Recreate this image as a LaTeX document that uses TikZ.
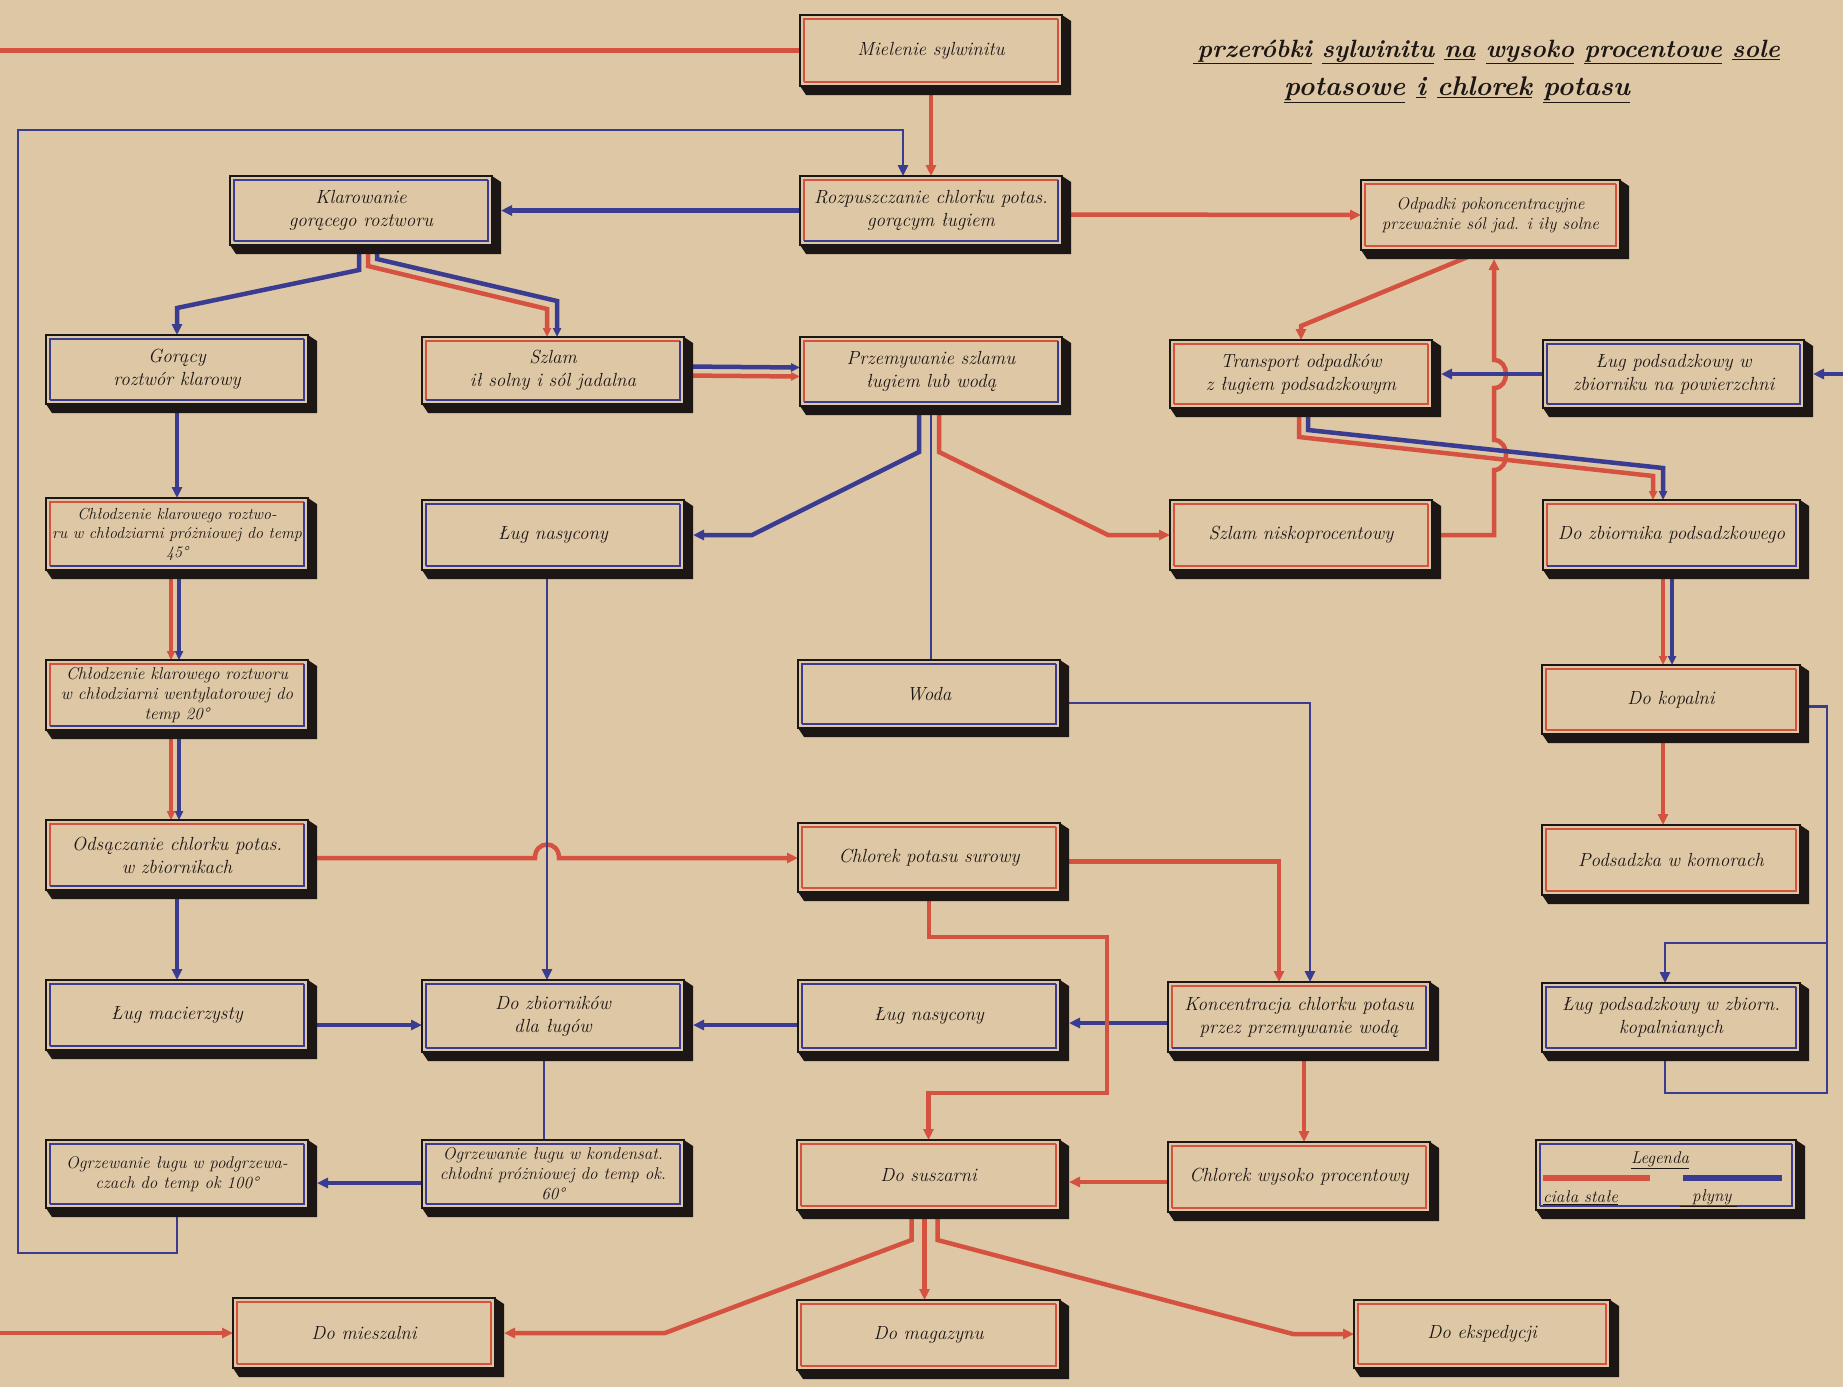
\documentclass[tikz,border=0pt]{standalone}
\usepackage{fontspec}
\usetikzlibrary{arrows.meta}
\definecolor{paper}{RGB}{222,199,165}
\definecolor{redc}{RGB}{213,82,64}
\definecolor{bluec}{RGB}{58,60,145}
\definecolor{inkc}{RGB}{28,22,20}
\pgfdeclarelayer{paperl}
\pgfdeclarelayer{conn}
\pgfsetlayers{paperl,conn,main}
\newcommand\bxf{\fontsize{19}{23}\selectfont\itshape}
\newcommand\bxm{\fontsize{17}{20}\selectfont\itshape}
\newcommand\bxs{\fontsize{16}{19}\selectfont\itshape}
\tikzset{
 pbox/.style={draw=inkc, line width=1.6pt, fill=paper, inner sep=2pt, outer sep=0pt, align=center, font=\bxf, text=inkc},
 innerl/.style={line width=2pt},
 rl/.style={redc, line width=4.5pt},
 bl/.style={bluec, line width=4.5pt},
 blt/.style={bluec, line width=2.6pt},
 arr/.style={-{Triangle[length=11pt,width=10pt]}},
 arrs/.style={-{Triangle[length=9pt,width=8pt]}},
 ttl/.style={font=\fontsize{25}{30}\selectfont\bfseries\itshape, text=inkc, inner sep=0pt},
 lgt/.style={font=\bxm, text=inkc, inner sep=0pt},
}
\newcommand\procnode[9][]{%
  \fill[inkc] (#3,#6) -- (#3+6,#6+9) -- (#5+9,#6+9) -- (#5+9,#4+6) -- (#5,#4) -- cycle;
  \node[pbox, minimum width={#5-#3}, minimum height={#6-#4}, anchor=north west, #1] (#2) at (#3,#4) {#9};
  \draw[#7, innerl] (#3+4,#6-4) -- (#3+4,#4+4) -- (#5-4,#4+4);
  \draw[#8, innerl] (#3+4,#6-4) -- (#5-4,#6-4) -- (#5-4,#4+4);
}
\begin{document}
\begin{tikzpicture}[x=1pt,y=-1pt]
\useasboundingbox (0,0) rectangle (1843,1387);
\begin{pgfonlayer}{paperl}
\fill[paper] (0,0) rectangle (1843,1387);
\end{pgfonlayer}

% title
\node[ttl, anchor=west] (title1) at (1193,52) {\underline{\,przeróbki} \underline{sylwinitu} \underline{na} \underline{wysoko} \underline{procentowe} \underline{sole}};
\node[ttl, font=\fontsize{27}{32}\selectfont\bfseries\itshape] (title2) at (1457,90) {\underline{potasowe} \underline{i} \underline{chlorek} \underline{potasu}};

% boxes
\procnode{miel}{800}{15}{1062}{86}{redc}{redc}{Mielenie sylwinitu}
\procnode{rozp}{800}{176}{1062}{245}{redc}{bluec}{Rozpuszczanie chlorku potas.\\ gorącym ługiem}
\procnode{klar}{230}{176}{492}{245}{bluec}{bluec}{Klarowanie\\ gorącego roztworu}
\procnode[font=\bxm]{odp}{1361}{180}{1620}{250}{redc}{redc}{Odpadki pokoncentracyjne\\ przeważnie sól jad. i iły solne}
\procnode{gor}{46}{335}{308}{404}{bluec}{bluec}{Gorący\\ roztwór klarowy}
\procnode{szlam}{422}{337}{684}{404}{redc}{bluec}{Szlam\\ ił solny i sól jadalna}
\procnode{przem}{800}{337}{1062}{406}{redc}{bluec}{Przemywanie szlamu\\ ługiem lub wodą}
\procnode{trans}{1170}{340}{1432}{408}{redc}{redc}{Transport odpadków\\ z ługiem podsadzkowym}
\procnode{lugpow}{1543}{340}{1804}{408}{bluec}{bluec}{Ług podsadzkowy w\\ zbiorniku na powierzchni}
\procnode[font=\bxs]{chl45}{46}{498}{308}{570}{redc}{bluec}{Chłodzenie klarowego roztwo-\\ru w chłodziarni próżniowej do temp\\ 45°}
\procnode{lugn}{422}{500}{684}{570}{bluec}{bluec}{Ług nasycony}
\procnode{szlamn}{1170}{500}{1432}{570}{redc}{redc}{Szlam niskoprocentowy}
\procnode{dozb}{1543}{500}{1800}{570}{redc}{bluec}{Do zbiornika podsadzkowego}
\procnode[font=\bxm]{chl20}{46}{660}{308}{730}{redc}{bluec}{Chłodzenie klarowego roztworu\\ w chłodziarni wentylatorowej do\\ temp 20°}
\procnode{woda}{798}{660}{1060}{728}{bluec}{bluec}{Woda}
\procnode{dokop}{1542}{665}{1800}{734}{redc}{redc}{Do kopalni}
\procnode{ods}{46}{820}{308}{890}{redc}{bluec}{Odsączanie chlorku potas.\\ w zbiornikach}
\procnode{chlsur}{798}{823}{1060}{892}{redc}{redc}{Chlorek potasu surowy}
\procnode{podsad}{1542}{825}{1800}{895}{redc}{redc}{Podsadzka w komorach}
\procnode{lugmac}{46}{980}{308}{1050}{bluec}{bluec}{Ług macierzysty}
\procnode{dozbl}{422}{980}{684}{1052}{bluec}{bluec}{Do zbiorników\\ dla ługów}
\procnode{lugn2}{798}{980}{1060}{1052}{bluec}{bluec}{Ług nasycony}
\procnode{konc}{1168}{982}{1430}{1052}{redc}{bluec}{Koncentracja chlorku potasu\\ przez przemywanie wodą}
\procnode{lugzb}{1542}{983}{1800}{1052}{bluec}{bluec}{Ług podsadzkowy w zbiorn.\\ kopalnianych}
\procnode[font=\bxm]{ogrzA}{46}{1140}{308}{1208}{bluec}{bluec}{Ogrzewanie ługu w podgrzewa-\\czach do temp ok 100°}
\procnode[font=\bxm]{ogrzB}{422}{1140}{684}{1208}{bluec}{bluec}{Ogrzewanie ługu w kondensat.\\ chłodni próżniowej do temp ok.\\ 60°}
\procnode{susz}{797}{1140}{1060}{1210}{redc}{redc}{Do suszarni}
\procnode{chlwys}{1168}{1142}{1430}{1212}{redc}{redc}{Chlorek wysoko procentowy}
\procnode{leg}{1536}{1140}{1796}{1210}{bluec}{bluec}{}
\procnode{miesz}{233}{1298}{495}{1368}{redc}{redc}{Do mieszalni}
\procnode{magaz}{797}{1300}{1060}{1370}{redc}{redc}{Do magazynu}
\procnode{eksp}{1354}{1300}{1610}{1368}{redc}{redc}{Do ekspedycji}

% legend content
\node[lgt] (legT) at (1660,1160) {\underline{Legenda}};
\draw[redc, line width=6pt] (1543,1178) -- (1650,1178);
\draw[bluec, line width=6pt] (1683,1178) -- (1782,1178);
\node[lgt, anchor=west] (legS) at (1543,1198) {\underline{ciała stałe}};
\node[lgt, anchor=west] (legP) at (1680,1198) {\underline{\ \ płyny\ }};

\coordinate (inTop) at (0,50.5);
\coordinate (inR) at (1843,374);
\coordinate (inBL) at (0,1333);
\coordinate (jA) at (1827,943);

\begin{pgfonlayer}{conn}
% top
\draw[rl] (inTop) -- (miel.west);
\draw[rl,arr] (miel.south) -- (rozp.north);
\draw[blt,arr] (ogrzA.south) -- (177,1253) -- (18,1253) -- (18,130) -- (903,130) -- ([xshift=-28pt]rozp.north);
\draw[bl,arr] (rozp.west) -- ([xshift=9pt]klar.east);
\draw[rl,arr] ([yshift=-4pt]rozp.east) -- (odp.west);
% Klarowanie split
\draw[bl,arr] ([xshift=-2pt]klar.south) -- (359,270) -- (177,308) -- (gor.north);
\draw[rl,arrs] ([xshift=7pt]klar.south) -- (368,266) -- (547,309) -- ([xshift=-6pt]szlam.north);
\draw[bl,arrs] ([xshift=16pt]klar.south) -- (377,259) -- (557,301) -- ([xshift=4pt]szlam.north);
% Szlam -> Przemywanie
\draw[bl,arrs] ([yshift=4pt]szlam.east) -- ([yshift=4pt]przem.west);
\draw[rl,arrs] ([yshift=-5pt]szlam.east) -- ([yshift=-5pt]przem.west);
% Przemywanie outputs
\draw[bl,arr] ([xshift=-12pt]przem.south) -- (919,452) -- (752,535) -- ([xshift=9pt]lugn.east);
\draw[blt] (przem.south) -- ([xshift=2pt]woda.north);
\draw[rl,arr] ([xshift=8pt]przem.south) -- (939,452) -- (1108,535) -- (szlamn.west);
% right upper
\draw[rl,arr] ([xshift=-6pt]odp.south) -- (1301,326) -- (trans.north);
\draw[rl,arr] (szlamn.east) -- (1494,535) -- (1494,470) .. controls (1510,470) and (1510,440) .. (1494,440) -- (1494,388) .. controls (1510,388) and (1510,360) .. (1494,360) -- ([xshift=3.5pt,yshift=-9pt]odp.south);
\draw[bl,arr] (lugpow.west) -- ([xshift=9pt]trans.east);
\draw[bl,arr] (inR) -- ([xshift=9pt]lugpow.east);
\draw[rl,arrs] ([xshift=-2pt]trans.south) -- (1299,437) -- (1653,476) -- ([xshift=-18.5pt]dozb.north);
\draw[bl,arrs] ([xshift=7pt]trans.south) -- (1308,430) -- (1663,468) -- ([xshift=-8.5pt]dozb.north);
\draw[rl,arrs] ([xshift=-8.5pt]dozb.south) -- ([xshift=-8pt]dokop.north);
\draw[bl,arrs] ([xshift=0.5pt]dozb.south) -- ([xshift=1pt]dokop.north);
\draw[rl,arr] ([xshift=-8pt]dokop.south) -- ([xshift=-8pt]podsad.north);
\draw[blt] ([yshift=-7pt,xshift=9pt]dokop.east) -- (1827,706.5) -- (1827,1093) -- (1665,1093) -- ([xshift=-6pt]lugzb.south);
\draw[blt,arr] (jA) -- (1665,943) -- ([xshift=-6pt]lugzb.north);
% left column
\draw[bl,arr] (gor.south) -- (chl45.north);
\draw[rl,arrs] ([xshift=-6pt]chl45.south) -- ([xshift=-6pt]chl20.north);
\draw[bl,arrs] ([xshift=2pt]chl45.south) -- ([xshift=2pt]chl20.north);
\draw[rl,arrs] ([xshift=-6pt]chl20.south) -- ([xshift=-6pt]ods.north);
\draw[bl,arrs] ([xshift=2pt]chl20.south) -- ([xshift=2pt]ods.north);
\draw[rl,arr] ([yshift=-3pt]ods.east) -- (535,858) .. controls (535,840) and (559,840) .. (559,858) -- ([yshift=-0.5pt]chlsur.west);
\draw[bl,arr] (ods.south) -- (lugmac.north);
\draw[blt,arr] ([xshift=-6pt]lugn.south) -- ([xshift=-6pt]dozbl.north);
\draw[bl,arr] ([yshift=-10pt]lugmac.east) -- ([yshift=-9pt]dozbl.west);
\draw[bl,arr] ([yshift=-9pt]lugn2.west) -- ([yshift=-9pt,xshift=9pt]dozbl.east);
\draw[bl,arr] ([yshift=-6pt]konc.west) -- ([yshift=-7pt,xshift=9pt]lugn2.east);
\draw[blt] ([xshift=-9pt]dozbl.south) -- ([xshift=-9pt]ogrzB.north);
\draw[bl,arr] ([yshift=-9pt]ogrzB.west) -- ([yshift=-9pt,xshift=9pt]ogrzA.east);
% centre / right lower
\draw[rl,arr] ([yshift=-4pt]chlsur.east) -- (1279,861.5) -- ([xshift=-20pt]konc.north);
\draw[rl,arr] (chlsur.south) -- (929,937) -- (1107,937) -- (1107,1093) -- (928.5,1093) -- (susz.north);
\draw[blt,arr] ([yshift=-9pt]woda.east) -- (1310,703) -- ([xshift=11pt]konc.north);
\draw[rl,arr] ([xshift=5pt]konc.south) -- ([xshift=5pt]chlwys.north);
\draw[rl,arr] ([yshift=-5pt]chlwys.west) -- ([yshift=-7pt,xshift=9pt]susz.east);
% Do suszarni outputs
\draw[rl,arr] ([xshift=-17pt]susz.south) -- (911.5,1240) -- (665,1333) -- ([xshift=9pt]miesz.east);
\draw[rl,arr] ([xshift=-4pt]susz.south) -- ([xshift=-4pt]magaz.north);
\draw[rl,arr] ([xshift=9pt]susz.south) -- (937.5,1240) -- (1293,1334) -- (eksp.west);
\draw[rl,arr] (inBL) -- (miesz.west);
\end{pgfonlayer}
\end{tikzpicture}
\end{document}
